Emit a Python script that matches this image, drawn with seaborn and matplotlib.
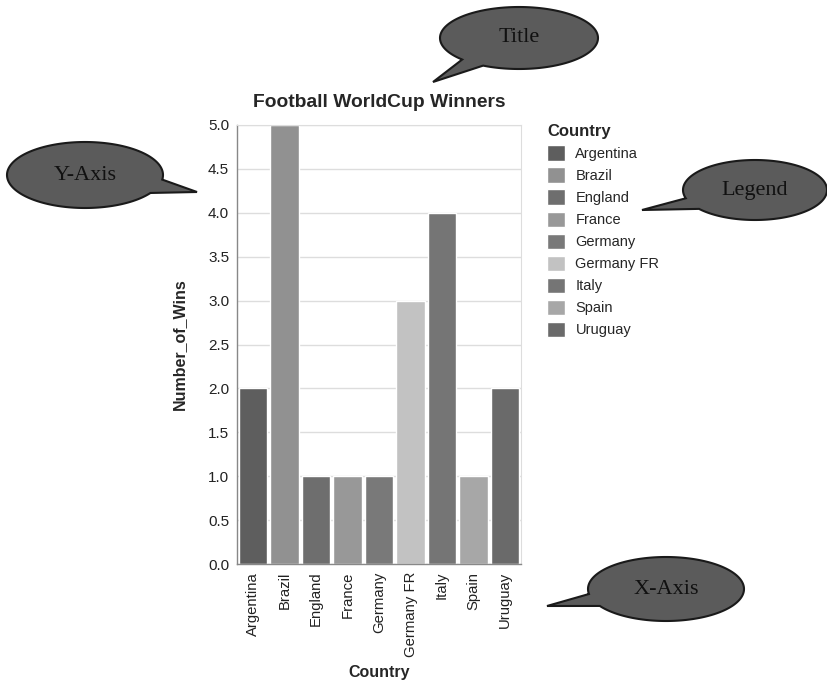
import numpy as np
import pandas as pd
import seaborn as sns
import matplotlib.pyplot as plt
from matplotlib.patches import Polygon

countries = ['Argentina', 'Brazil', 'England', 'France', 'Germany',
             'Germany FR', 'Italy', 'Spain', 'Uruguay']
wins = [2, 5, 1, 1, 1, 3, 4, 1, 2]
grays = ['#5e5e5e', '#919191', '#6e6e6e', '#989898', '#797979',
         '#c2c2c2', '#757575', '#a7a7a7', '#6a6a6a']

df = pd.DataFrame({'Country': countries, 'Number_of_Wins': wins})
palette = dict(zip(countries, grays))

sns.set_style('white')
plt.rcParams['font.family'] = ['Liberation Sans', 'DejaVu Sans']

W, H = 828, 682
fig = plt.figure(figsize=(W / 100, H / 100), dpi=100)
ax = fig.add_axes([237 / W, 1 - 564 / H, 284 / W, 439 / H])

sns.barplot(data=df, x='Country', y='Number_of_Wins', hue='Country',
            palette=palette, width=0.9, saturation=1, legend=True, ax=ax)

ax.set_ylim(0, 5)
ax.set_xlim(-0.5, 8.5)
ax.set_yticks(np.arange(0, 5.01, 0.5))
ax.set_yticklabels([f'{v:.1f}' for v in np.arange(0, 5.01, 0.5)])
ax.yaxis.grid(True, color='#dddddd', lw=1)
ax.set_axisbelow(True)
for s in ['top', 'right']:
    ax.spines[s].set_color('#dddddd')
for s in ['left', 'bottom']:
    ax.spines[s].set_color('#888888')
    ax.spines[s].set_linewidth(1)
ax.tick_params(axis='both', length=4.3, width=1, color='#888888',
               labelsize=11, labelcolor='#222222', pad=1.3)
ax.tick_params(axis='x', rotation=90, labelsize=10.7)
for lbl in ax.get_xticklabels():
    lbl.set_va('top')

ax.set_title('Football WorldCup Winners', fontsize=13.9, fontweight='bold', pad=13)
ax.set_xlabel('Country', fontsize=11.5, fontweight='bold')
ax.set_ylabel('Number_of_Wins', fontsize=11.5, fontweight='bold')
ax.xaxis.label.set_va('center')
ax.yaxis.label.set_va('center')
ax.xaxis.set_label_coords(0.5, -0.248)
ax.yaxis.set_label_coords(-0.204, 0.5)

sns.move_legend(ax, 'upper left', bbox_to_anchor=(547 / W, 1 - 124 / H),
                bbox_transform=fig.transFigure, frameon=False, title='Country',
                fontsize=10.5, title_fontsize=12, borderaxespad=0, borderpad=0,
                handlelength=1.2, handleheight=1.25, handletextpad=0.75,
                labelspacing=0.44)
leg = ax.get_legend()
leg.get_title().set_fontweight('bold')
leg._legend_box.align = 'left'

# speech-bubble callouts drawn in pixel space
deco = fig.add_axes([0, 0, 1, 1], zorder=5)
deco.set_xlim(0, W)
deco.set_ylim(H, 0)
deco.axis('off')


def bubble(cx, cy, a, b, tip, gap, text):
    t = np.radians(np.linspace(gap[1], gap[0] + 360, 200))
    pts = np.column_stack([cx + a * np.cos(t), cy + b * np.sin(t)])
    pts = np.vstack([pts, tip])
    deco.add_patch(Polygon(pts, closed=True, facecolor='#5b5b5b',
                           edgecolor='#1a1a1a', lw=1.5))
    deco.text(cx, cy, text, ha='center', va='center', fontsize=16,
              family='Liberation Serif', color='#111111')


bubble(519, 38, 79, 31, (433, 82), (117, 136), 'Title')
bubble(85, 175, 78, 33, (197, 192), (8, 33), 'Y-Axis')
bubble(755, 190, 72, 30, (642, 210), (141, 164), 'Legend')
bubble(666, 589, 78, 32, (547, 606), (148, 171), 'X-Axis')

fig.savefig('out.png', dpi=100)
